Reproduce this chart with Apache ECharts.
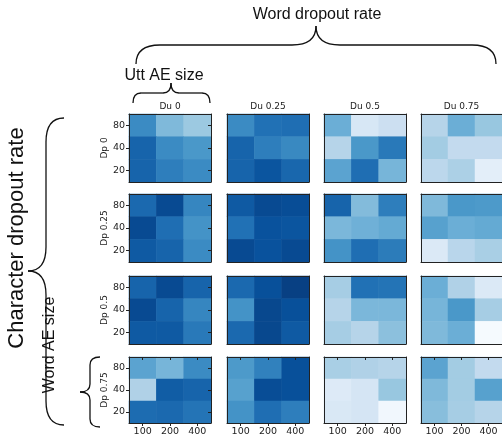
<!DOCTYPE html>
<html>
<head>
<meta charset="utf-8">
<script src="https://cdn.jsdelivr.net/npm/echarts/dist/echarts.min.js"></script>
<style>
html,body{margin:0;padding:0;background:#fff;}
#chart{width:502px;height:437px;}
</style>
</head>
<body>
<div id="chart"></div>
<script>
//类别
var uttSizes = ['100', '200', '400'];
var wordSizes = ['20', '40', '80'];
var duRates = ['Du 0', 'Du 0.25', 'Du 0.5', 'Du 0.75'];
var dpRates = ['Dp 0', 'Dp 0.25', 'Dp 0.5', 'Dp 0.75'];

//每个小图: 行从上到下 80,40,20; 列 100,200,400
var dp0_du0    = [[0.65, 0.45, 0.38], [0.80, 0.65, 0.60], [0.80, 0.70, 0.65]];
var dp0_du025  = [[0.65, 0.75, 0.76], [0.80, 0.70, 0.66], [0.80, 0.86, 0.79]];
var dp0_du05   = [[0.50, 0.16, 0.22], [0.30, 0.60, 0.72], [0.55, 0.76, 0.47]];
var dp0_du075  = [[0.30, 0.50, 0.39], [0.36, 0.26, 0.26], [0.28, 0.33, 0.10]];

var dp025_du0   = [[0.78, 0.90, 0.67], [0.90, 0.76, 0.62], [0.84, 0.80, 0.65]];
var dp025_du025 = [[0.84, 0.90, 0.89], [0.75, 0.87, 0.86], [0.90, 0.87, 0.90]];
var dp025_du05  = [[0.80, 0.44, 0.70], [0.46, 0.49, 0.52], [0.62, 0.76, 0.71]];
var dp025_du075 = [[0.45, 0.60, 0.59], [0.56, 0.50, 0.52], [0.14, 0.29, 0.34]];

var dp05_du0   = [[0.80, 0.90, 0.80], [0.90, 0.80, 0.67], [0.84, 0.84, 0.72]];
var dp05_du025 = [[0.78, 0.88, 0.94], [0.62, 0.91, 0.88], [0.78, 0.91, 0.84]];
var dp05_du05  = [[0.35, 0.75, 0.74], [0.30, 0.46, 0.46], [0.35, 0.30, 0.42]];
var dp05_du075 = [[0.50, 0.32, 0.14], [0.47, 0.60, 0.35], [0.45, 0.50, 0.01]];

var dp075_du0   = [[0.55, 0.47, 0.65], [0.32, 0.83, 0.80], [0.77, 0.78, 0.74]];
var dp075_du025 = [[0.59, 0.69, 0.88], [0.56, 0.89, 0.88], [0.62, 0.76, 0.70]];
var dp075_du05  = [[0.34, 0.32, 0.30], [0.13, 0.17, 0.39], [0.15, 0.17, 0.03]];
var dp075_du075 = [[0.55, 0.36, 0.26], [0.45, 0.36, 0.56], [0.43, 0.35, 0.30]];

var panels = [
    [dp0_du0, dp0_du025, dp0_du05, dp0_du075],
    [dp025_du0, dp025_du025, dp025_du05, dp025_du075],
    [dp05_du0, dp05_du025, dp05_du05, dp05_du075],
    [dp075_du0, dp075_du025, dp075_du05, dp075_du075]
];

//Blues 色板
var blues = ['#f7fbff', '#deebf7', '#c6dbef', '#9ecae1', '#6baed6', '#4292c6', '#2171b5', '#08519c', '#08306b'];

//布局
var gridLeft = [129, 227, 324, 421];
var gridTop = [114, 194, 276, 357];
var gridW = 82, gridH = 68;
var ink = '#222';
var smallFont = 'DejaVu Sans';

var grids = [], xAxes = [], yAxes = [], series = [];

for (var r = 0; r < 4; r++) {
    for (var c = 0; c < 4; c++) {
        var idx = r * 4 + c;
        grids.push({left: gridLeft[c], top: gridTop[r], width: gridW, height: gridH});

        //下面的x轴
        xAxes.push({
            gridIndex: idx, type: 'category', data: uttSizes, position: 'bottom', z: 10,
            axisLine: {show: true, onZero: false, lineStyle: {color: ink}},
            axisTick: {show: r == 3, alignWithLabel: true, length: 3, lineStyle: {color: ink}},
            axisLabel: {show: r == 3, margin: 4, fontSize: 9.5, color: ink, fontFamily: smallFont},
            splitLine: {show: false}
        });
        //上面的x轴 (标题)
        xAxes.push({
            gridIndex: idx, type: 'category', data: uttSizes, position: 'top', z: 10,
            axisLine: {show: true, onZero: false, lineStyle: {color: ink}},
            axisTick: {show: r == 3, inside: true, alignWithLabel: true, length: 3, lineStyle: {color: ink}},
            axisLabel: {show: false},
            name: r == 0 ? duRates[c] : '',
            nameLocation: 'middle', nameGap: 3,
            nameTextStyle: {fontSize: 9, color: ink, fontFamily: smallFont}
        });
        //左边y轴
        yAxes.push({
            gridIndex: idx, type: 'category', data: wordSizes, position: 'left', z: 10,
            axisLine: {show: true, onZero: false, lineStyle: {color: ink}},
            axisTick: {show: c == 0, alignWithLabel: true, length: 3, lineStyle: {color: ink}},
            axisLabel: {show: c == 0, margin: 4, fontSize: 9.5, color: ink, fontFamily: smallFont},
            name: c == 0 ? dpRates[r] : '',
            nameLocation: 'middle', nameGap: 15, nameRotate: 90,
            nameTextStyle: {fontSize: 9, color: ink, fontFamily: smallFont}
        });
        //右边y轴
        yAxes.push({
            gridIndex: idx, type: 'category', data: wordSizes, position: 'right', z: 10,
            axisLine: {show: true, onZero: false, lineStyle: {color: ink}},
            axisTick: {show: c == 0, inside: true, alignWithLabel: true, length: 3, lineStyle: {color: ink}},
            axisLabel: {show: false}
        });

        var vals = panels[r][c];
        var data = [];
        for (var i = 0; i < 3; i++) {
            for (var j = 0; j < 3; j++) {
                data.push([j, 2 - i, vals[i][j]]);
            }
        }
        series.push({
            type: 'heatmap',
            xAxisIndex: idx * 2,
            yAxisIndex: idx * 2,
            data: data,
            emphasis: {disabled: true},
            itemStyle: {borderWidth: 0}
        });
    }
}

//花括号
function brace(uL, uR, uc, vEnd, vTip, rr, vertical) {
    var vMid = (vEnd + vTip) / 2;
    function p(u, v) { return vertical ? [v, u] : [u, v]; }
    var style = {stroke: '#111', lineWidth: 1.3, fill: null};
    var out = [];
    function curve(a, cp, b) {
        var A = p(a[0], a[1]), C = p(cp[0], cp[1]), B = p(b[0], b[1]);
        out.push({type: 'bezierCurve', silent: true, shape: {x1: A[0], y1: A[1], cpx1: C[0], cpy1: C[1], x2: B[0], y2: B[1]}, style: style});
    }
    function seg(a, b) {
        var A = p(a[0], a[1]), B = p(b[0], b[1]);
        out.push({type: 'line', silent: true, shape: {x1: A[0], y1: A[1], x2: B[0], y2: B[1]}, style: style});
    }
    curve([uL, vEnd], [uL, vMid], [uL + rr, vMid]);
    seg([uL + rr, vMid], [uc - rr, vMid]);
    curve([uc - rr, vMid], [uc, vMid], [uc, vTip]);
    curve([uR, vEnd], [uR, vMid], [uR - rr, vMid]);
    seg([uR - rr, vMid], [uc + rr, vMid]);
    curve([uc + rr, vMid], [uc, vMid], [uc, vTip]);
    return out;
}

function label(text, x, y, size, rot) {
    return {
        type: 'text', silent: true, x: x, y: y, rotation: rot || 0,
        style: {text: text, fill: '#111', font: size + 'px "Liberation Sans", Arial, sans-serif',
                textAlign: 'center', textVerticalAlign: 'middle'}
    };
}

var graphics = []
    .concat(brace(136, 496, 316, 64, 26, 24, false))
    .concat(brace(133, 210, 171, 103, 83, 8, false))
    .concat(brace(118, 425, 271, 64, 28, 24, true))
    .concat(brace(357, 427, 392, 100, 80, 8, true));
graphics.push(label('Word dropout rate', 317, 15, 16));
graphics.push(label('Utt AE size', 164, 76, 16));
graphics.push(label('Character dropout rate', 17, 238, 22, Math.PI / 2));
graphics.push(label('Word AE size', 50, 345, 16, Math.PI / 2));

var myChart = echarts.init(document.getElementById('chart'));
myChart.setOption({
    animation: false,
    grid: grids,
    xAxis: xAxes,
    yAxis: yAxes,
    visualMap: {
        show: false, min: 0, max: 1,
        seriesIndex: series.map(function (s, i) { return i; }),
        inRange: {color: blues}
    },
    series: series,
    graphic: graphics
});
</script>
</body>
</html>
